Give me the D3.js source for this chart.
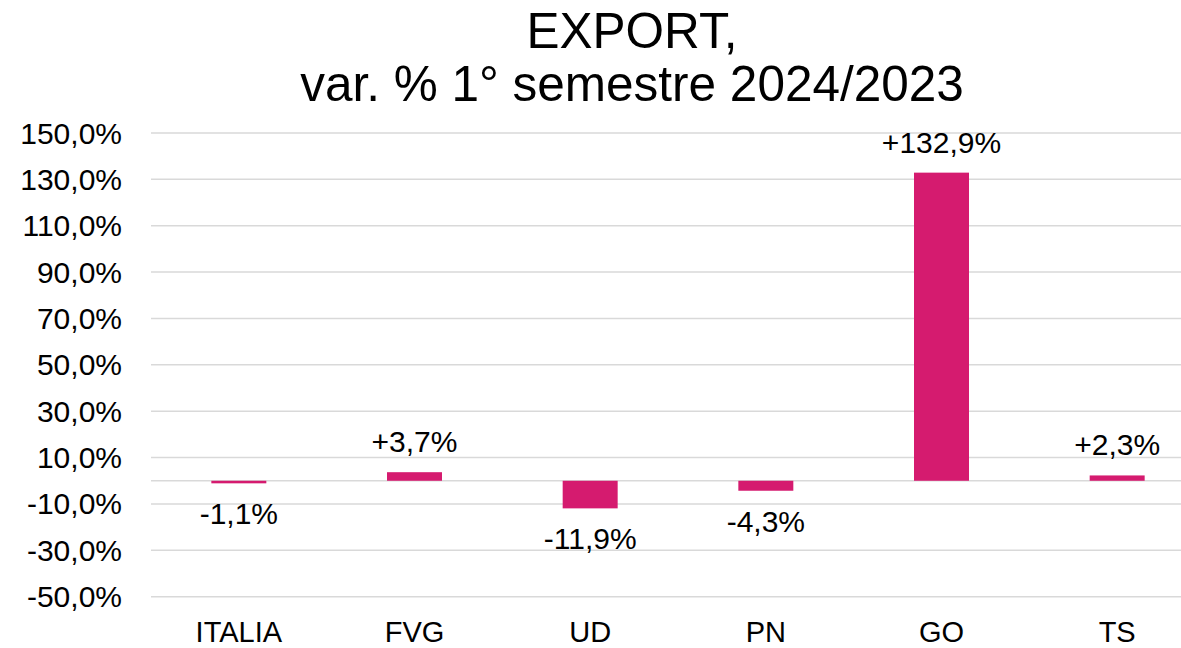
<!DOCTYPE html>
<html>
<head>
<meta charset="utf-8">
<script src="https://cdn.jsdelivr.net/npm/d3@7"></script>
<style>
  body { margin: 0; background: #fff; }
  svg text { font-family: "Liberation Sans", Arial, sans-serif; fill: #000; }
</style>
</head>
<body>
<div id="chart"></div>
<script>
// chart data
const categories = ["ITALIA", "FVG", "UD", "PN", "GO", "TS"];
const values = [-1.1, 3.7, -11.9, -4.3, 132.9, 2.3];
const yTicks = [-50, -30, -10, 10, 30, 50, 70, 90, 110, 130, 150];
const titleLines = ["EXPORT,", "var. % 1° semestre 2024/2023"];

const W = 1181, H = 648;
const margin = { top: 133, left: 151, bottom: 51 };
const plotRight = 1205;

const svg = d3.select("#chart")
    .append("svg")
    .attr("width", W)
    .attr("height", H);

// scales
const x = d3.scaleBand()
    .domain(categories)
    .range([margin.left, plotRight])
    .paddingInner(0.687)
    .paddingOuter(0.3435);

const y = d3.scaleLinear()
    .domain([-50, 150])
    .range([H - margin.bottom - 0.3, margin.top]);

// italian style number, plain hyphen for minus
const fmt = v => d3.format(".1f")(v).replace(".", ",").replace("\u2212", "-");

// gridlines
svg.append("g")
    .selectAll("line")
    .data(yTicks.concat([0]))
    .join("line")
    .attr("x1", margin.left)
    .attr("x2", plotRight)
    .attr("y1", d => y(d))
    .attr("y2", d => y(d))
    .attr("stroke", "#d9d9d9")
    .attr("stroke-width", 1.5);

// y axis labels
svg.append("g")
    .selectAll("text")
    .data(yTicks)
    .join("text")
    .attr("x", 122)
    .attr("y", d => y(d))
    .attr("dy", "0.35em")
    .attr("text-anchor", "end")
    .style("font-size", "30px")
    .text(d => fmt(d) + "%");

// bars
svg.append("g")
    .selectAll("rect")
    .data(values)
    .join("rect")
    .attr("x", (d, i) => x(categories[i]))
    .attr("width", x.bandwidth())
    .attr("y", d => y(Math.max(0, d)))
    .attr("height", d => Math.abs(y(d) - y(0)))
    .attr("fill", "#d51b6f");

// data labels
svg.append("g")
    .selectAll("text")
    .data(values)
    .join("text")
    .attr("x", (d, i) => x(categories[i]) + x.bandwidth() / 2)
    .attr("y", d => d >= 0 ? y(d) - 20 : y(d) + 41)
    .attr("text-anchor", "middle")
    .style("font-size", "30px")
    .text(d => (d > 0 ? "+" : "") + fmt(d) + "%");

// category labels
svg.append("g")
    .selectAll("text")
    .data(categories)
    .join("text")
    .attr("x", d => x(d) + x.bandwidth() / 2)
    .attr("y", 642)
    .attr("text-anchor", "middle")
    .style("font-size", "29px")
    .text(d => d);

// title
svg.append("g")
    .selectAll("text")
    .data(titleLines)
    .join("text")
    .attr("x", 632)
    .attr("y", (d, i) => 48 + i * 53)
    .attr("text-anchor", "middle")
    .style("font-size", "49.5px")
    .text(d => d);
</script>
</body>
</html>
